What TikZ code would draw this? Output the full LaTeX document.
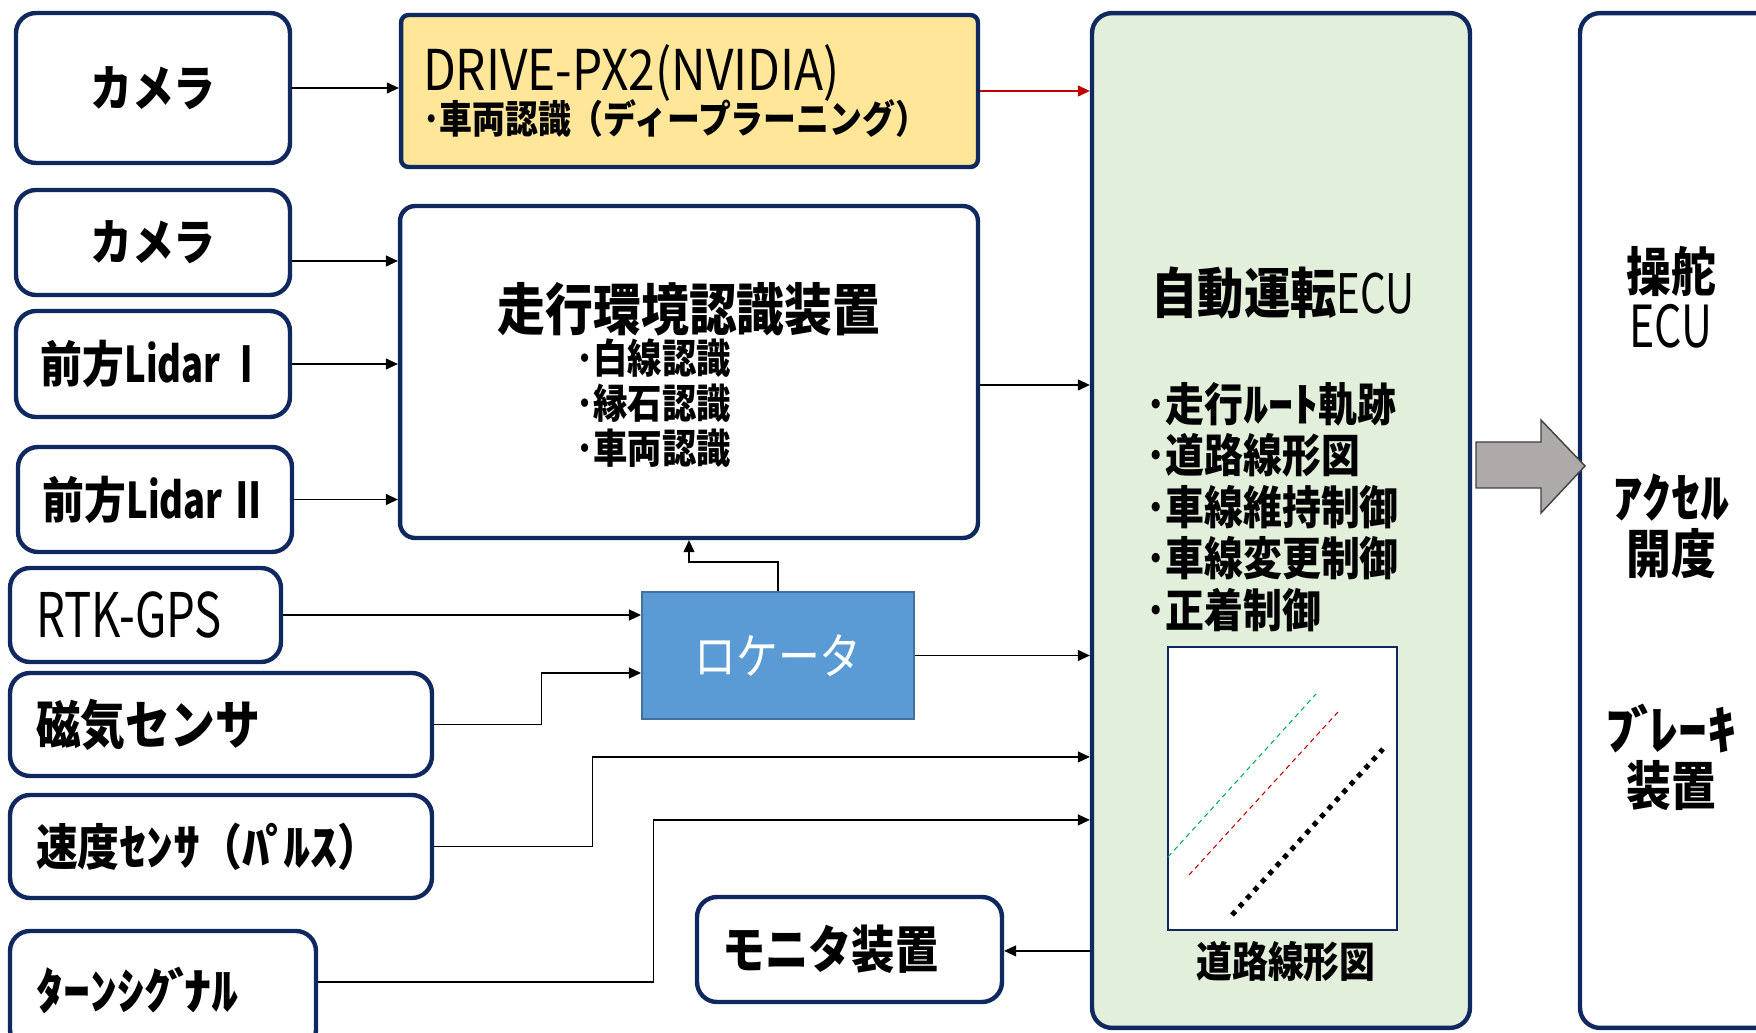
\documentclass[tikz,border=0pt]{standalone}
\usepackage{fontspec}
\setmainfont{Noto Sans CJK JP}[FakeStretch=0.85]
\newfontfamily\narrowfont{Noto Sans CJK JP}[FakeStretch=0.74]
\newfontfamily\hankaku{Noto Sans CJK JP}[FakeStretch=1.1]
\usepackage{tikz}
\usetikzlibrary{arrows.meta}
\definecolor{navy}{RGB}{16,40,96}
\definecolor{drivecolor}{RGB}{255,230,153}
\definecolor{ecucolor}{RGB}{226,239,218}
\definecolor{loccolor}{RGB}{91,155,213}
\definecolor{locborder}{RGB}{65,113,156}
\definecolor{arrowgray}{RGB}{174,170,170}
\definecolor{roadgreen}{RGB}{0,176,80}
\definecolor{roadred}{RGB}{192,0,0}
\newcommand{\dkb}{\kern-0.08em}
\newcommand{\dka}{\kern-0.2em}

\begin{document}
\begin{tikzpicture}[x=0.02cm, y=-0.02cm, >={Triangle[length=0.24cm,width=0.22cm]},
                    box/.style={rectangle, draw=navy, line width=2.5pt, fill=white,
                    rounded corners=0.4cm, inner sep=0pt, font=\fontsize{28}{32}\selectfont\bfseries},
                    leftbox/.style={box, align=left, inner xsep=0.52cm},
                    wire/.style={line width=0.7pt}]
    \useasboundingbox (0,0) rectangle (1756,1033);
    % sensors
    \node [box, minimum width=5.48cm, minimum height=3cm] (cam1) at (153,88) {カメラ};
    \node [box, minimum width=5.48cm, minimum height=2.1cm] (cam2) at (153,242.5) {カメラ};
    \node [box, minimum width=5.48cm, minimum height=2.12cm] (lid1) at (153,364) {前方{\narrowfont Lidar Ⅰ}};
    \node [box, minimum width=5.48cm, minimum height=2.1cm] (lid2) at (155,499.5) {前方{\narrowfont Lidar Ⅱ}};
    \node [leftbox, text width=4.38cm, minimum height=1.88cm, font=\fontsize{35}{38}\selectfont\narrowfont] (rtk) at (145.5,615) {RTK-GPS};
    \node [leftbox, text width=7.40cm, minimum height=2.06cm, font=\fontsize{30}{34}\selectfont\bfseries] (mag) at (221,724.5) {磁気センサ};
    \node [leftbox, text width=7.40cm, minimum height=2.06cm] (speed) at (221,846.5) {速度{\hankaku ｾﾝｻ}（{\hankaku ﾊ\dkb ﾟ\dka ﾙｽ}）};
    \node [leftbox, text width=5.08cm, minimum height=2.38cm] (turn) at (163,990.5) {\hankaku ﾀｰﾝｼｸ\dkb ﾞ\dka ﾅﾙ};

    % processing
    \node [box, fill=drivecolor, rounded corners=0.15cm, align=left, text width=10.66cm, inner xsep=0.44cm,
           minimum height=3.04cm] (drive) at (689.5,91)
          {\fontsize{32}{27}\selectfont\mdseries DRIVE-PX2(NVIDIA)\\[-7.5pt]
           \fontsize{22}{27}\selectfont\bfseries ･車両認識（ディープラーニング）};
    \node [box, rounded corners=0.3cm, minimum width=11.56cm, minimum height=6.64cm] (recog) at (689,372) {};
    \node [font=\fontsize{32}{36}\selectfont\bfseries] (recogtitle) at (689,309) {走行環境認識装置};
    \node [anchor=west, align=left, inner sep=0pt, font=\fontsize{23}{25.6}\selectfont\bfseries] (recoglist) at (576,403)
          {･白線認識\\･縁石認識\\･車両認識};
    \node [rectangle, fill=loccolor, draw=locborder, line width=1.2pt, minimum width=5.44cm, minimum height=2.54cm,
           text=white, font=\fontsize{28}{32}\selectfont] (loc) at (778,655.5) {ロケータ};
    \node [leftbox, text width=5.1cm, inner xsep=0.5cm, minimum height=2.1cm, font=\fontsize{29}{32}\selectfont\bfseries]
          (mon) at (849.5,949.5) {モニタ装置};

    % ECU
    \node [box, fill=ecucolor, minimum width=7.56cm, minimum height=20.3cm] (ecu) at (1281,520.5) {};
    \node [font=\fontsize{31}{34}\selectfont\bfseries] (ecutitle) at (1283,293) {自動運転{\narrowfont\mdseries ECU}};
    \node [anchor=west, align=left, inner sep=0pt, font=\fontsize{26}{29.3}\selectfont\bfseries] (eculist) at (1146,507)
          {･走行{\hankaku ﾙｰﾄ}軌跡\\･道路線形図\\･車線維持制御\\･車線変更制御\\･正着制御};
    \node [rectangle, draw=navy, line width=1.2pt, fill=white, inner sep=0pt,
           minimum width=4.58cm, minimum height=5.66cm] (road) at (1282.5,788.5) {};
    \draw [roadgreen, line width=0.6pt, dash pattern=on 0.1cm off 0.08cm] (1168,857) -- (1316,694);
    \draw [roadred, line width=0.6pt, dash pattern=on 0.1cm off 0.08cm] (1189,875) -- (1338,712);
    \draw [black, line width=0.1cm, dash pattern=on 0.1cm off 0.12cm] (1232,915) -- (1383,749);
    \node [font=\fontsize{24}{28}\selectfont\bfseries] (roadcap) at (1286,962) {道路線形図};

    % actuators
    \node [box, minimum width=4.4cm, minimum height=20.3cm] (act) at (1690,520.5) {};
    \node [align=center, font=\fontsize{30}{32}\selectfont\bfseries] (steer) at (1671,297) {操舵\\{\narrowfont\mdseries\fontsize{33}{32}\selectfont ECU}};
    \node [align=center, font=\fontsize{30}{32}\selectfont\bfseries] (accel) at (1671,526) {{\hankaku ｱｸｾﾙ}\\開度};
    \node [align=center, font=\fontsize{30}{32}\selectfont\bfseries] (brake) at (1671,757) {{\hankaku ﾌ\dkb ﾞ\dka ﾚｰｷ}\\装置};
    \draw [fill=arrowgray, draw=black!75, line width=0.8pt]
          (1476,442) -- (1541,442) -- (1541,420) -- (1585,466) -- (1541,513) -- (1541,488) -- (1476,488) -- cycle;

    \draw [->, wire] (cam1.east) -- (cam1.east -| drive.west);
    \draw [->, wire, roadred] (drive.east) -- (drive.east -| ecu.west);
    \draw [->, wire] ([yshift=-0.37cm]cam2.east) -- ([yshift=-0.37cm]cam2.east -| recog.west);
    \draw [->, wire] (lid1.east) -- (lid1.east -| recog.west);
    \draw [->, wire] (lid2.east) -- (lid2.east -| recog.west);
    \draw [->, wire] ([yshift=-0.26cm]recog.east) -- ([yshift=-0.26cm]recog.east -| ecu.west);
    \draw [->, wire] (rtk.east) -- (rtk.east -| loc.west);
    \draw [->, wire] (mag.east) -- ++(107,0) |- ([yshift=-0.35cm]loc.west);
    \draw [->, wire] (loc.north) -- ++(0,-29) -| (recog.south);
    \draw [->, wire] (loc.east) -- (loc.east -| ecu.west);
    \draw [->, wire] (speed.east) -- ++(158,0) |- ([yshift=-4.73cm]ecu.west);
    \draw [->, wire] ([yshift=0.17cm]turn.east) -- ++(335,0) |- ([yshift=-5.99cm]ecu.west);
    \draw [->, wire] ([yshift=-8.61cm]ecu.west) -- ([yshift=-8.61cm]ecu.west -| mon.east);
\end{tikzpicture}
\end{document}
